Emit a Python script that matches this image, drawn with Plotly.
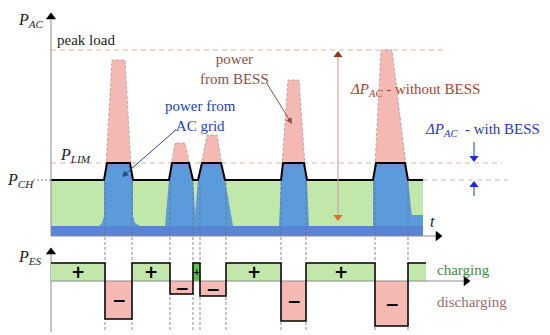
import plotly.graph_objects as go

# ---------------- data (diagram units: x = time, y = screen-like level, downward) ----
# power levels of the upper panel
Y_PEAK_LOAD = 50
Y_LIM = 163
Y_CH = 180
Y_BAND = 226
Y_BASE = 236
X_START = 51
X_END = 423

# grid-power peaks: rise start, top start, top end, fall end, bottom-left, bottom-right, flare
peak_x0 = [104, 169, 198, 281, 373]
peak_x1 = [107, 172, 202, 283, 376]
peak_x2 = [130, 189, 221, 304, 405]
peak_x3 = [133, 193, 225, 307, 408]
peak_bl = [99, 165, 194, 279, 373]
peak_br = [140, 196, 233, 309, 413]
peak_flare = [10, 0, 0, 0, 0]

# load peaks above P_LIM (BESS share): top-left, top-right, top level
load_top_l = [112, 175, 207, 288, 381]
load_top_r = [125, 185, 217, 299, 392]
load_top_y = [60, 143, 135, 80, 50]

# BESS power (lower panel)
Y_ES_ZERO = 281
es_edges = [51, 105, 132, 170, 193, 200, 226, 281, 306, 375, 408, 426]
es_values = [18, -38, 18, -13, 18, -15, 18, -40, 18, -45, 18]
es_signs = ["+", "−", "+", "−", "+", "−", "+", "−", "+", "−", ""]

# colours
PINK = "#f4b9b2"
GREEN = "#c2e7aa"
GREEN_DARK = "#5cbf4a"
BLUE = "#5b9bdb"
BLUE_BAND = "#5a84d8"
FONT = "Liberation Serif"

fig = go.Figure()


def poly(xs, ys, color):
    fig.add_trace(go.Scatter(
        x=list(xs) + [xs[0]], y=list(ys) + [ys[0]], mode="lines", fill="toself",
        fillcolor=color, hoverinfo="skip", line=dict(color=color, width=0)))


def line(xs, ys, color, width=1, dash=None):
    fig.add_trace(go.Scatter(x=xs, y=ys, mode="lines", hoverinfo="skip",
                             line=dict(color=color, width=width, dash=dash)))


def marker(x, y, symbol, color, size=9):
    fig.add_trace(go.Scatter(x=[x], y=[y], mode="markers", hoverinfo="skip",
                             marker=dict(symbol=symbol, color=color, size=size,
                                         line=dict(width=0))))


# ---------------- upper panel ----------------
# reference dashed lines (behind the peaks)
line([X_START, 445], [Y_PEAK_LOAD, Y_PEAK_LOAD], "#d9b3aa", width=1, dash="5px,4px")
line([X_START, 502], [Y_LIM, Y_LIM], "#d9b3aa", width=1, dash="5px,4px")
line([X_END, 508], [Y_CH, Y_CH], "#c8b8b8", width=1, dash="5px,4px")
line([33, X_START], [Y_CH, Y_CH], "#777777", width=1, dash="2px,2px")

# green charging region and blue base band
poly([X_START, X_END, X_END, X_START], [Y_CH, Y_CH, Y_BAND, Y_BAND], GREEN)
poly([X_START, X_END, X_END, X_START], [Y_BAND, Y_BAND, Y_BASE, Y_BASE], BLUE_BAND)
poly([412, X_END, X_END, 412], [215, 215, Y_BAND, Y_BAND], BLUE)

# pink load peaks (power from BESS)
for i in range(len(peak_x0)):
    xs = [peak_x1[i] - 1, load_top_l[i], load_top_r[i], peak_x2[i] + 1]
    ys = [Y_LIM + 3, load_top_y[i], load_top_y[i], Y_LIM + 3]
    poly(xs, ys, PINK)
    line(xs, ys, "#b09a90", width=0.8, dash="3px,2px")

# blue grid peaks
for i in range(len(peak_x0)):
    f = peak_flare[i]
    xs = [peak_x0[i], peak_x1[i], peak_x2[i], peak_x3[i]]
    ys = [Y_CH, Y_LIM, Y_LIM, Y_CH]
    if f:
        xs += [peak_x3[i], peak_x3[i] + 2, peak_br[i], peak_bl[i], peak_x0[i] - 2, peak_x0[i]]
        ys += [Y_BAND - f, Y_BAND - 3, Y_BAND, Y_BAND, Y_BAND - 3, Y_BAND - f]
    else:
        xs += [peak_br[i], peak_bl[i]]
        ys += [Y_BAND, Y_BAND]
    poly(xs, ys, BLUE)
    line([peak_x1[i] + 1, peak_x2[i] - 1], [Y_LIM + 2.5, Y_LIM + 2.5], "#8a7fd8", width=2)

# black grid-power outline
ox, oy = [X_START], [Y_CH]
for i in range(len(peak_x0)):
    ox += [peak_x0[i], peak_x1[i], peak_x2[i], peak_x3[i]]
    oy += [Y_CH, Y_LIM, Y_LIM, Y_CH]
ox.append(X_END)
oy.append(Y_CH)
line(ox, oy, "black", width=2)

# vertical transition lines
for xe in es_edges[1:-1]:
    line([xe, xe], [182, 332], "#707070", width=0.8, dash="3px,2px")

# axes of upper panel
line([X_START, X_START], [236, 20], "#8a8a8a", width=1)
marker(X_START, 17, "triangle-up", "black", 9)
line([X_START, 438], [Y_BASE, Y_BASE], "#8a8a8a", width=1)
marker(438, Y_BASE, "triangle-right", "black", 9)

# delta P without BESS
line([338, 338], [55, 218], "#c9a898", width=1.2)
marker(338, 55, "triangle-up", "#8b3a1e", 8)
marker(338, 217, "triangle-down", "#d9702a", 8)

# delta P with BESS
line([474, 474], [142, 160], "#2030d0", width=1)
marker(474, 158, "triangle-down", "#1a2ad8", 8)
line([474, 474], [196, 183], "#2030d0", width=1)
marker(474, 185, "triangle-up", "#1a2ad8", 8)

# ---------------- lower panel ----------------
line([X_START, X_START], [252, 332], "#8a8a8a", width=1)
marker(X_START, 252, "triangle-up", "black", 9)

sx, sy = [], []
for i, v in enumerate(es_values):
    x0, x1 = es_edges[i], es_edges[i + 1]
    yv = Y_ES_ZERO - v
    col = GREEN if v > 0 else PINK
    if v > 0 and (x1 - x0) < 10:
        col = GREEN_DARK
    poly([x0, x1, x1, x0], [Y_ES_ZERO, Y_ES_ZERO, yv, yv], col)
    sx += [x0, x1]
    sy += [yv, yv]

line([X_START, 466], [Y_ES_ZERO, Y_ES_ZERO], "#8a8a8a", width=1)
marker(466, Y_ES_ZERO, "triangle-right", "black", 9)
line(sx, sy, "black", width=1.5)

annotations = []
for i, v in enumerate(es_values):
    if not es_signs[i]:
        continue
    xc = (es_edges[i] + es_edges[i + 1]) / 2
    yc = Y_ES_ZERO - v / 2
    small = (es_edges[i + 1] - es_edges[i]) < 10
    annotations.append(dict(x=xc, y=yc, text="<b>" + es_signs[i] + "</b>", showarrow=False,
                            font=dict(family="DejaVu Sans", size=9 if small else 17,
                                      color="black")))


def txt(x, y, text, color, size=15, **kw):
    annotations.append(dict(x=x, y=y, text=text, showarrow=False,
                            font=dict(family=FONT, size=size, color=color), **kw))


txt(31, 20, "<i>P<sub>AC</sub></i>", "#222222", 16)
txt(86, 40, "peak load", "#222222", 15)
txt(75, 155, "<i>P<sub>LIM</sub></i>", "#222222", 16)
txt(20, 180, "<i>P<sub>CH</sub></i>", "#222222", 16)
txt(30, 257, "<i>P<sub>ES</sub></i>", "#222222", 16)
txt(432, 221, "<i>t</i>", "#222222", 16)
txt(234, 69, "power<br>from BESS", "#8b5048", 15)
txt(200, 116, "power from<br>AC grid", "#1a3fc0", 15)
txt(415, 90, "<i>ΔP<sub>AC</sub></i> - without BESS", "#b04030", 15)
txt(482, 130, "<i>ΔP<sub>AC</sub></i>  - with BESS", "#2a35d0", 15)
txt(463, 270, "charging", "#3c8c3c", 15)
txt(472, 302, "discharging", "#a06a6a", 15)

# pointer arrows
annotations.append(dict(x=292, y=124, ax=266, ay=82, xref="x", yref="y", axref="x", ayref="y",
                        text="", showarrow=True, arrowhead=2, arrowsize=1.2, arrowwidth=1,
                        arrowcolor="#8a5048"))
annotations.append(dict(x=122, y=177, ax=178, ay=128, xref="x", yref="y", axref="x", ayref="y",
                        text="", showarrow=True, arrowhead=2, arrowsize=1.2, arrowwidth=1,
                        arrowcolor="#2a4a7a"))

# the page body has an 8px margin: the figure covers page pixels 8..550 / 8..335
fig.update_layout(
    width=542, height=327, margin=dict(l=0, r=0, t=0, b=0),
    paper_bgcolor="white", plot_bgcolor="white", showlegend=False,
    xaxis=dict(range=[8, 550], visible=False, fixedrange=True),
    yaxis=dict(range=[335, 8], visible=False, fixedrange=True),
    annotations=annotations,
)

fig.write_html("out.html")
